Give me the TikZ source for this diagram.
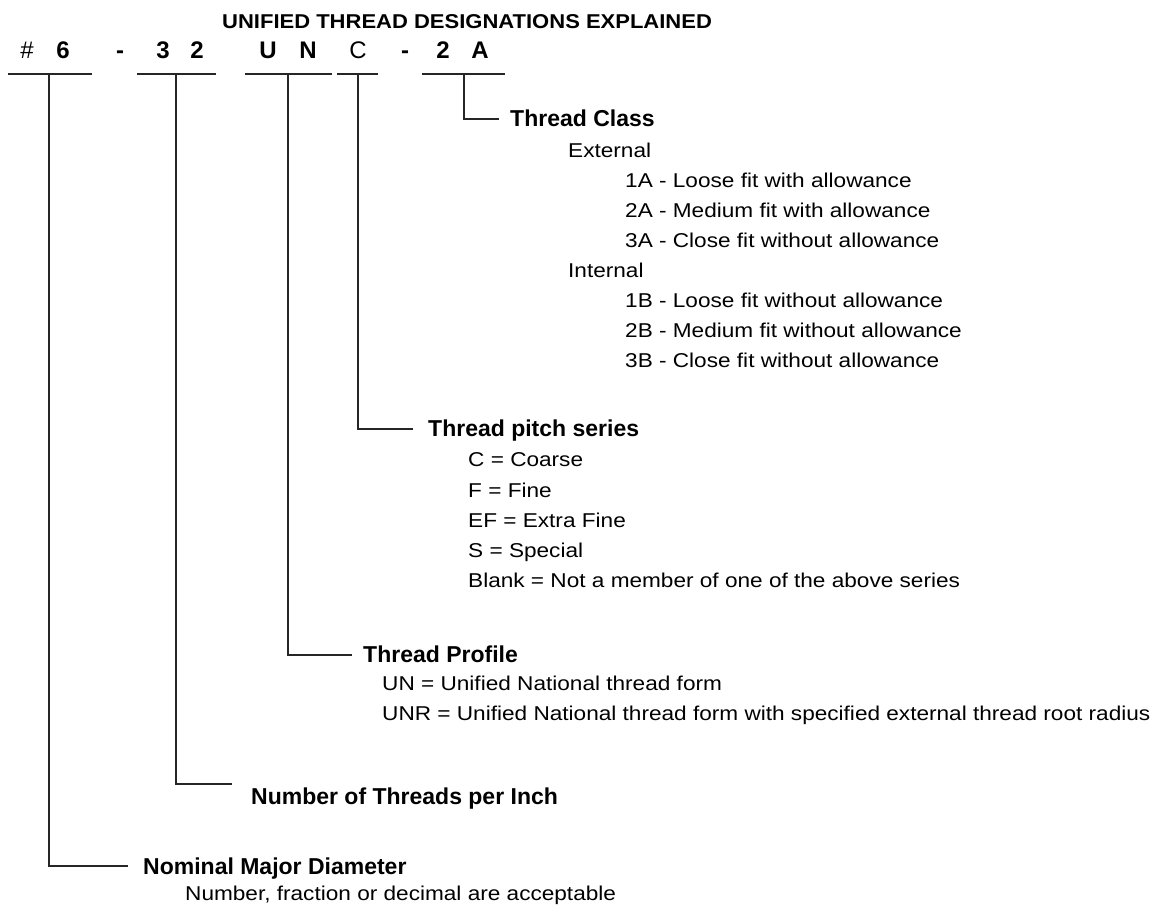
\documentclass[tikz,border=0pt]{standalone}
\usepackage{fontspec}
\setmainfont{Liberation Sans}
\newfontfamily\wideface[FakeStretch=1.13]{Liberation Sans}
\newfontfamily\titleface[FakeStretch=1.1]{Liberation Sans}
\begin{document}
\begin{tikzpicture}[x=1pt,y=-1pt,
  conn/.style={line width=1.5pt, draw=black!85},
  uline/.style={line width=1.5pt, draw=black!85},
  codebf/.style={font=\fontsize{24}{28}\selectfont\bfseries, anchor=base, inner sep=0pt},
  codert/.style={font=\fontsize{24}{28}\selectfont, anchor=base, inner sep=0pt},
  head/.style={font=\fontsize{23}{27}\selectfont\bfseries, anchor=base west, inner sep=0pt},
  item/.style={font=\wideface\fontsize{20}{24}\selectfont, anchor=base west, inner sep=0pt},
  ttl/.style={font=\titleface\fontsize{20}{24}\selectfont\bfseries, anchor=base west, inner sep=0pt}]
\useasboundingbox[fill=white] (0,0) rectangle (1163,909);

% title
\node[ttl] (title) at (222,29) {UNIFIED THREAD DESIGNATIONS EXPLAINED};

% code characters
\node[codert] (c1) at (27,59) {\#};
\node[codebf] (c2) at (63,59) {6};
\node[codebf] (c3) at (120,59) {-};
\node[codebf] (c4) at (163,59) {3};
\node[codebf] (c5) at (197,59) {2};
\node[codebf] (c6) at (268,59) {U};
\node[codebf] (c7) at (308,59) {N};
\node[codert] (c8) at (358,59) {C};
\node[codebf] (c9) at (405,59) {-};
\node[codebf] (c10) at (443,59) {2};
\node[codebf] (c11) at (480,59) {A};

% underlines
\coordinate (s1a) at (8,74);   \coordinate (s1b) at (92,74);  \coordinate (m1) at (49,74);
\coordinate (s2a) at (137,74); \coordinate (s2b) at (216,74); \coordinate (m2) at (176,74);
\coordinate (s3a) at (245,74); \coordinate (s3b) at (332,74); \coordinate (m3) at (288,74);
\coordinate (s4a) at (337,74); \coordinate (s4b) at (378,74); \coordinate (m4) at (358,74);
\coordinate (s5a) at (422,74); \coordinate (s5b) at (505,74); \coordinate (m5) at (464,74);
\draw[uline] (s1a) -- (s1b);
\draw[uline] (s2a) -- (s2b);
\draw[uline] (s3a) -- (s3b);
\draw[uline] (s4a) -- (s4b);
\draw[uline] (s5a) -- (s5b);

% line ends
\coordinate (e5) at (499,119);
\coordinate (e4) at (413,429);
\coordinate (e3) at (352,655);
\coordinate (e2) at (232,784);
\coordinate (e1) at (128,866);
\draw[conn] (m5) |- (e5);
\draw[conn] (m4) |- (e4);
\draw[conn] (m3) |- (e3);
\draw[conn] (m2) |- (e2);
\draw[conn] (m1) |- (e1);

% Thread Class
\node[head] (tc) at (510,127) {Thread Class};
\node[item] (ext) at (568,158) {External};
\node[item] (a1) at (625,188) {1A - Loose fit with allowance};
\node[item] (a2) at (625,218) {2A - Medium fit with allowance};
\node[item] (a3) at (625,248) {3A - Close fit without allowance};
\node[item] (int) at (568,278) {Internal};
\node[item] (b1) at (625,308) {1B - Loose fit without allowance};
\node[item] (b2) at (625,338) {2B - Medium fit without allowance};
\node[item] (b3) at (625,368) {3B - Close fit without allowance};

% Thread pitch series
\node[head] (tp) at (428,437) {Thread pitch series};
\node[item] (p1) at (468,467) {C = Coarse};
\node[item] (p2) at (468,497) {F = Fine};
\node[item] (p3) at (468,527) {EF = Extra Fine};
\node[item] (p4) at (468,557) {S = Special};
\node[item] (p5) at (468,587) {Blank = Not a member of one of the above series};

% Thread Profile
\node[head] (tpr) at (363,662) {Thread Profile};
\node[item] (r1) at (382,690) {UN = Unified National thread form};
\node[item] (r2) at (382,720) {UNR = Unified National thread form with specified external thread root radius};

% Number of threads
\node[head] (nt) at (251,804) {Number of Threads per Inch};

% Nominal
\node[head] (nm) at (143,874) {Nominal Major Diameter};
\node[item] (nd) at (185,900) {Number, fraction or decimal are acceptable};
\end{tikzpicture}
\end{document}
